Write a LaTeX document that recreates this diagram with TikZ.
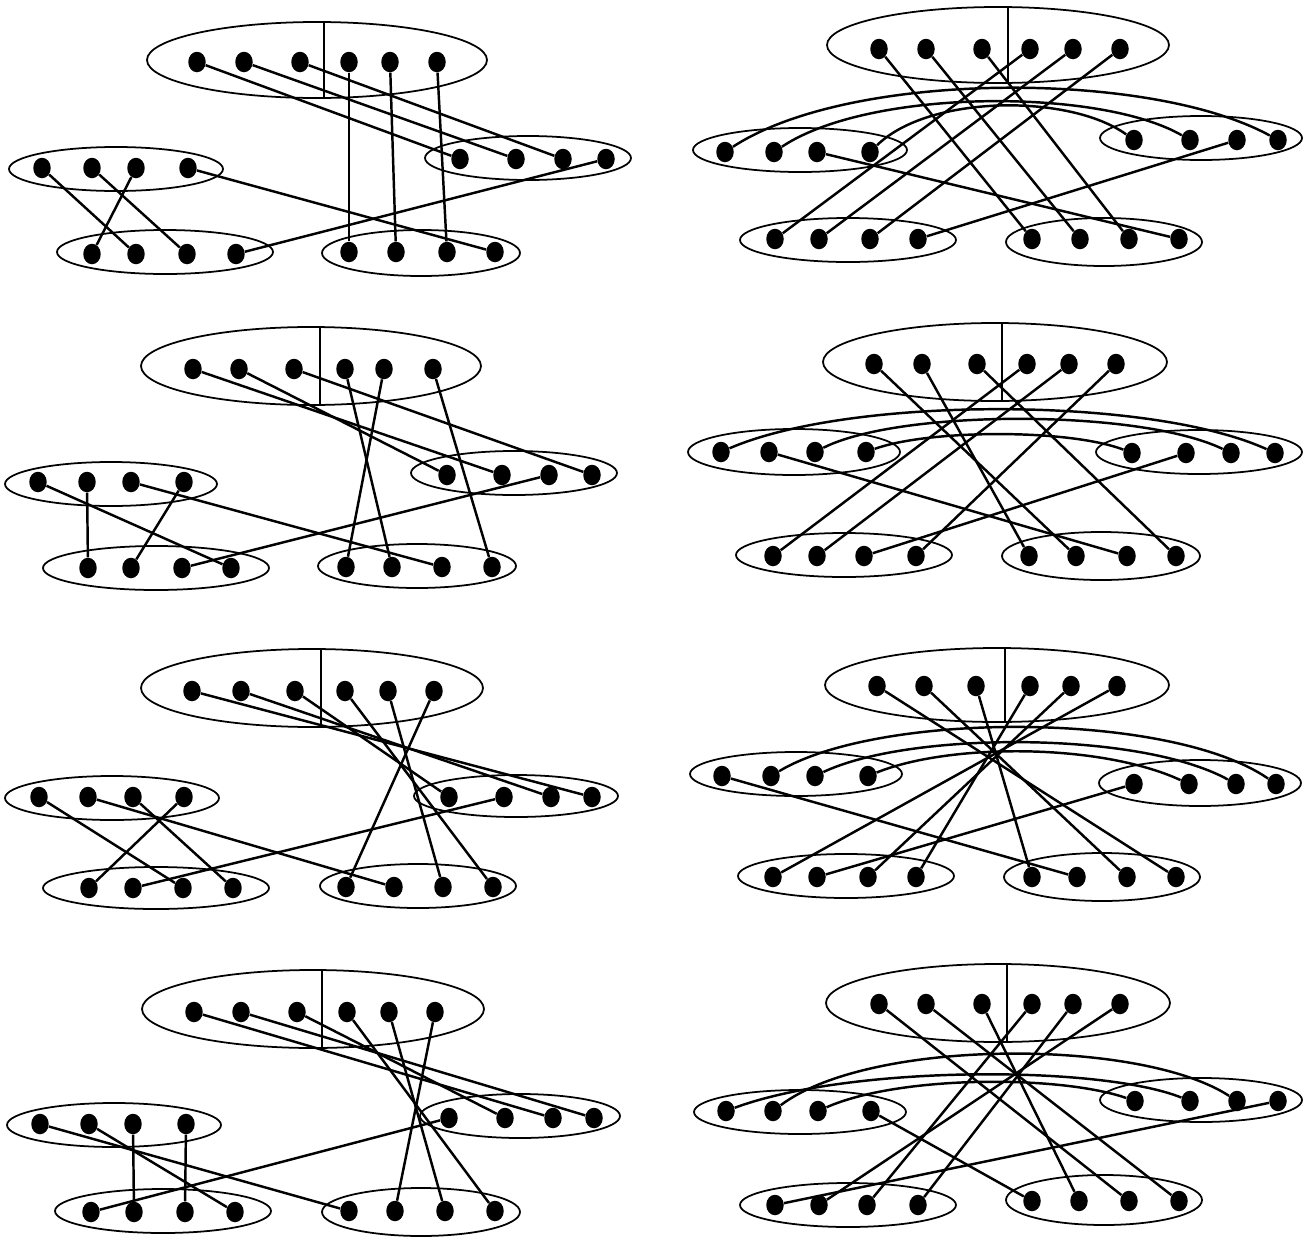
\documentclass[tikz,border=0pt]{standalone}
\usepackage{tikz}
\usetikzlibrary{shapes.geometric}

% one row of dots: prefix, row, y, list of x
\newcommand{\dotrow}[4]{%
  \foreach \px [count=\k] in {#4}
    \node[pt] (#1-#2\k) at (\px,#3) {};}

\begin{document}
\begin{tikzpicture}[x=0.02cm,y=-0.02cm,
  pt/.style={ellipse,fill=black,inner sep=0pt,minimum width=0.35cm,minimum height=0.41cm},
  grp/.style={line width=1pt},
  lnk/.style={line width=1.4pt},
]
\useasboundingbox (0,0) rectangle (1303,1238);

% ---- left column, first
\draw[grp] (317,60) ellipse [x radius=170, y radius=38];
\draw[grp] (324,22) -- (324,98);
\draw[grp] (116,169) ellipse [x radius=107, y radius=22];
\draw[grp] (528,158) ellipse [x radius=103, y radius=22];
\draw[grp] (165,252) ellipse [x radius=108, y radius=22];
\draw[grp] (421,253) ellipse [x radius=99, y radius=23];
\dotrow{la}{t}{62}{197,244,300,349,390,437}
\dotrow{la}{l}{168}{42,92,136,188}
\dotrow{la}{r}{159}{460,516,563,606}
\dotrow{la}{bl}{254}{92,136,187,236}
\dotrow{la}{br}{252}{349,396,447,495}
\foreach \a/\b in {t1/r1,t2/r2,t3/r3,t4/br1,t5/br2,t6/br3,l1/bl2,l2/bl3,l3/bl1,l4/br4,r4/bl4}
  \draw[lnk] (la-\a) -- (la-\b);

% ---- left column, second
\draw[grp] (311,366) ellipse [x radius=170, y radius=39];
\draw[grp] (320,327) -- (320,405);
\draw[grp] (111,484) ellipse [x radius=106, y radius=22];
\draw[grp] (514,473) ellipse [x radius=103, y radius=22];
\draw[grp] (156,568) ellipse [x radius=113, y radius=22];
\draw[grp] (417,566) ellipse [x radius=99, y radius=22];
\dotrow{lb}{t}{369}{193,239,294,345,384,433}
\dotrow{lb}{l}{482}{38,87,131,184}
\dotrow{lb}{r}{475}{447,502,549,592}
\dotrow{lb}{bl}{568}{88,131,182,231}
\dotrow{lb}{br}{567}{346,392,442,492}
\foreach \a/\b in {t1/r2,t2/r1,t3/r4,t4/br2,t5/br1,t6/br4,l1/bl4,l2/bl1,l3/br3,l4/bl2,r3/bl3}
  \draw[lnk] (lb-\a) -- (lb-\b);

% ---- left column, third
\draw[grp] (312,688) ellipse [x radius=171, y radius=39];
\draw[grp] (321,649) -- (321,727);
\draw[grp] (112,798) ellipse [x radius=107, y radius=22];
\draw[grp] (516,796) ellipse [x radius=102, y radius=21];
\draw[grp] (156,888) ellipse [x radius=113, y radius=21];
\draw[grp] (418,886) ellipse [x radius=98, y radius=22];
\dotrow{lc}{t}{691}{192,241,295,345,388,434}
\dotrow{lc}{l}{797}{39,88,133,184}
\dotrow{lc}{r}{797}{449,504,551,592}
\dotrow{lc}{bl}{888}{89,133,183,233}
\dotrow{lc}{br}{887}{346,394,443,493}
\foreach \a/\b in {t1/r4,t2/r3,t3/r1,t4/br4,t5/br3,t6/br1,l1/bl3,l2/br2,l3/bl4,l4/bl1,r2/bl2}
  \draw[lnk] (lc-\a) -- (lc-\b);

% ---- left column, fourth
\draw[grp] (313,1009) ellipse [x radius=171, y radius=39];
\draw[grp] (322,970) -- (322,1048);
\draw[grp] (114,1125) ellipse [x radius=107, y radius=22];
\draw[grp] (520,1116) ellipse [x radius=100, y radius=22];
\draw[grp] (163,1211) ellipse [x radius=108, y radius=22];
\draw[grp] (421,1212) ellipse [x radius=99, y radius=24];
\dotrow{ld}{t}{1012}{194,241,297,347,389,435}
\dotrow{ld}{l}{1124}{40,89,133,186}
\dotrow{ld}{r}{1118}{449,505,553,594}
\dotrow{ld}{bl}{1212}{91,134,185,235}
\dotrow{ld}{br}{1211}{349,395,445,495}
\foreach \a/\b in {t1/r3,t2/r4,t3/r2,t4/br4,t5/br3,t6/br2,r1/bl1,l1/br1,l2/bl4,l3/bl2,l4/bl3}
  \draw[lnk] (ld-\a) -- (ld-\b);

% ---- right column, first
\draw[grp] (998,45) ellipse [x radius=171, y radius=38];
\draw[grp] (1008,7) -- (1008,83);
\draw[grp] (800,150) ellipse [x radius=107, y radius=22];
\draw[grp] (1201,138) ellipse [x radius=101, y radius=22];
\draw[grp] (848,240) ellipse [x radius=108, y radius=22];
\draw[grp] (1104,242) ellipse [x radius=98, y radius=24];
\dotrow{ra}{t}{49}{879,926,982,1030,1073,1120}
\dotrow{ra}{l}{152}{725,774,817,870}
\dotrow{ra}{r}{140}{1134,1190,1237,1278}
\dotrow{ra}{bl}{239}{775,819,870,918}
\dotrow{ra}{br}{239}{1032,1080,1129,1179}
\foreach \a/\b in {t1/br1,t2/br2,t3/br3,t4/bl1,t5/bl2,t6/bl3,l3/br4,r3/bl4}
  \draw[lnk] (ra-\a) -- (ra-\b);
\draw[lnk] (ra-l1) .. controls (850,70) and (1150,70) .. (ra-r4);
\draw[lnk] (ra-l2) .. controls (870,88) and (1100,88) .. (ra-r2);
\draw[lnk] (ra-l4) .. controls (930,94) and (1070,94) .. (ra-r1);

% ---- right column, second
\draw[grp] (995,362) ellipse [x radius=172, y radius=39];
\draw[grp] (1002,323) -- (1002,401);
\draw[grp] (794,452) ellipse [x radius=106, y radius=23];
\draw[grp] (1199,452) ellipse [x radius=103, y radius=22];
\draw[grp] (844,555) ellipse [x radius=108, y radius=22];
\draw[grp] (1101,556) ellipse [x radius=99, y radius=24];
\dotrow{rb}{t}{364}{874,922,977,1027,1069,1116}
\dotrow{rb}{l}{452}{721,769,815,866}
\dotrow{rb}{r}{453}{1132,1186,1231,1275}
\dotrow{rb}{bl}{556}{773,817,864,916}
\dotrow{rb}{br}{556}{1029,1076,1127,1176}
\foreach \a/\b in {t1/br2,t2/br1,t3/br4,t4/bl1,t5/bl2,t6/bl4,l2/br3,bl3/r2}
  \draw[lnk] (rb-\a) -- (rb-\b);
\draw[lnk] (rb-l1) .. controls (850,396) and (1150,396) .. (rb-r4);
\draw[lnk] (rb-l3) .. controls (900,409) and (1140,409) .. (rb-r3);
\draw[lnk] (rb-l4) .. controls (930,429) and (1070,429) .. (rb-r1);

% ---- right column, third
\draw[grp] (997,685) ellipse [x radius=172, y radius=37];
\draw[grp] (1005,648) -- (1005,722);
\draw[grp] (796,774) ellipse [x radius=106, y radius=22];
\draw[grp] (1200,783) ellipse [x radius=101, y radius=23];
\draw[grp] (846,876) ellipse [x radius=108, y radius=22];
\draw[grp] (1102,877) ellipse [x radius=98, y radius=24];
\dotrow{rc}{t}{686}{877,924,976,1030,1071,1117}
\dotrow{rc}{l}{776}{722,771,815,868}
\dotrow{rc}{r}{784}{1134,1189,1236,1276}
\dotrow{rc}{bl}{877}{773,817,868,916}
\dotrow{rc}{br}{877}{1032,1077,1127,1176}
\foreach \a/\b in {t1/br4,t2/br3,t3/br1,t4/bl4,t5/bl3,t6/bl1,l1/br2,bl2/r1}
  \draw[lnk] (rc-\a) -- (rc-\b);
\draw[lnk] (rc-l2) .. controls (880,711) and (1170,711) .. (rc-r4);
\draw[lnk] (rc-l3) .. controls (910,731) and (1140,731) .. (rc-r3);
\draw[lnk] (rc-l4) .. controls (950,743) and (1100,743) .. (rc-r2);

% ---- right column, fourth
\draw[grp] (998,1003) ellipse [x radius=172, y radius=39];
\draw[grp] (1007,964) -- (1007,1042);
\draw[grp] (800,1112) ellipse [x radius=106, y radius=22];
\draw[grp] (1201,1100) ellipse [x radius=101, y radius=22];
\draw[grp] (848,1205) ellipse [x radius=108, y radius=22];
\draw[grp] (1104,1200) ellipse [x radius=98, y radius=25];
\dotrow{rd}{t}{1004}{879,926,982,1032,1073,1120}
\dotrow{rd}{l}{1111}{726,773,818,871}
\dotrow{rd}{r}{1101}{1135,1190,1237,1278}
\dotrow{rd}{bl}{1205}{775,819,867,918}
\dotrow{rd}{br}{1201}{1032,1079,1129,1179}
\foreach \a/\b in {t1/br3,t2/br4,t3/br2,t4/bl3,t5/bl4,t6/bl2,l4/br1,r4/bl1}
  \draw[lnk] (rd-\a) -- (rd-\b);
\draw[lnk] (rd-l1) .. controls (850,1065) and (1100,1065) .. (rd-r2);
\draw[lnk] (rd-l2) .. controls (870,1038) and (1140,1038) .. (rd-r3);
\draw[lnk] (rd-l3) .. controls (900,1075) and (1060,1075) .. (rd-r1);
\end{tikzpicture}
\end{document}
